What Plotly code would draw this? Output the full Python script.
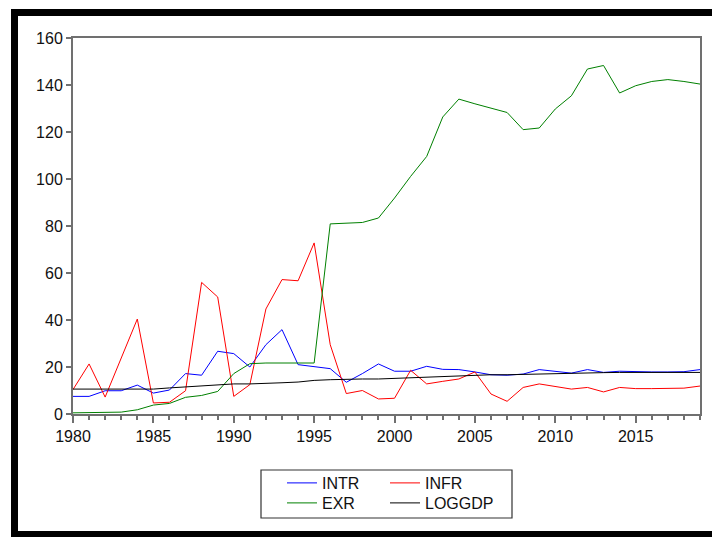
import plotly.graph_objects as go

years = list(range(1980, 2020))

intr = [7.5, 7.5, 9.9, 9.9, 12.3, 8.9, 10.2, 17.2, 16.5, 26.7,
        25.7, 20.0, 29.5, 35.9, 21.0, 20.0, 19.3, 13.5, 17.2, 21.3,
        18.2, 18.2, 20.3, 19.0, 18.9, 17.9, 16.7, 16.5, 17.0, 18.9,
        18.0, 17.4, 18.9, 17.7, 18.2, 17.9, 17.9, 17.9, 18.0, 18.9]

infr = [10.4, 21.3, 7.2, 23.5, 40.4, 4.7, 5.0, 9.9, 56.0, 49.8,
        7.5, 12.5, 44.7, 57.2, 56.7, 72.8, 29.5, 8.7, 10.0, 6.4,
        6.7, 18.6, 12.8, 13.9, 14.9, 17.9, 8.5, 5.4, 11.3, 12.8,
        11.8, 10.6, 11.3, 9.4, 11.3, 10.8, 10.8, 10.8, 11.0, 11.9]

exr = [0.5, 0.6, 0.7, 0.8, 1.8, 3.8, 4.5, 7.1, 7.9, 9.6,
       17.2, 21.4, 21.7, 21.7, 21.7, 21.7, 80.9, 81.3, 81.5, 83.4,
       91.9, 101.1, 109.6, 126.4, 134.0, 132.0, 130.2, 128.3, 121.0, 121.7,
       129.8, 135.4, 146.8, 148.3, 136.6, 139.7, 141.5, 142.3, 141.5, 140.4]

loggdp = [10.6, 10.6, 10.6, 10.6, 10.6, 10.6, 11.1, 11.5, 11.8, 12.2,
          12.8, 12.8, 13.2, 13.3, 13.6, 14.3, 14.6, 14.9, 14.9, 14.9,
          15.2, 15.5, 15.7, 16.0, 16.3, 16.6, 16.7, 16.7, 16.9, 17.0,
          17.2, 17.3, 17.4, 17.6, 17.7, 17.7, 17.7, 17.7, 17.7, 17.7]

x_ticks = [1980, 1985, 1990, 1995, 2000, 2005, 2010, 2015]
y_ticks = [0, 20, 40, 60, 80, 100, 120, 140, 160]

fig = go.Figure()
fig.add_trace(go.Scatter(x=years, y=intr, mode="lines", name="INTR",
                         line=dict(color="#0000ff", width=1), legend="legend"))
fig.add_trace(go.Scatter(x=years, y=infr, mode="lines", name="INFR",
                         line=dict(color="#ff0000", width=1), legend="legend"))
fig.add_trace(go.Scatter(x=years, y=exr, mode="lines", name="EXR",
                         line=dict(color="#008000", width=1), legend="legend2"))
fig.add_trace(go.Scatter(x=years, y=loggdp, mode="lines", name="LOGGDP",
                         line=dict(color="#000000", width=1), legend="legend3"))

axis_col = "#707070"
font = dict(family="Liberation Sans, Arial, sans-serif", size=16, color="#111111")

leg_common = dict(orientation="h", xanchor="left", yanchor="middle",
                  bgcolor="rgba(0,0,0,0)", borderwidth=0,
                  font=font, itemclick=False, itemdoubleclick=False)

# page offsets (body margin) are 8px; plot area in page coords: x 73..700, y 38..414
col1_x = (282 - 73) / 627
col2_x = (385 - 73) / 627
row1_y = (414 - 483) / 376
row2_y = (414 - 503) / 376

fig.update_layout(
    width=712, height=529,
    margin=dict(l=65, r=20, t=30, b=123),
    paper_bgcolor="white", plot_bgcolor="white",
    font=font,
    showlegend=True,
    legend=dict(x=col1_x, y=row1_y, entrywidth=58, entrywidthmode="pixels", **leg_common),
    legend2=dict(x=col1_x, y=row2_y, **leg_common),
    legend3=dict(x=col2_x, y=row2_y, **leg_common),
    xaxis=dict(range=[1980, 2019], tickvals=x_ticks, ticks="outside", ticklen=7,
               tickwidth=1.5, tickcolor=axis_col, showline=True, linecolor=axis_col,
               linewidth=2, mirror=True, showgrid=False, zeroline=False,
               minor=dict(dtick=1, tick0=1980, ticks="outside", ticklen=4,
                          tickwidth=1.5, tickcolor=axis_col, showgrid=False),
               tickfont=font),
    yaxis=dict(range=[0, 160], tickvals=y_ticks, ticks="outside", ticklen=5,
               tickwidth=1.5, tickcolor=axis_col, showline=True, linecolor=axis_col,
               linewidth=2, mirror=True, showgrid=False, zeroline=False,
               tickfont=font),
    shapes=[
        # legend box
        dict(type="rect", xref="paper", yref="paper",
             x0=(261 - 73) / 627, x1=(512 - 73) / 627,
             y0=(414 - 470) / 376, y1=(414 - 518) / 376,
             line=dict(color="#333333", width=1.2), fillcolor="rgba(0,0,0,0)"),
        # outer black frame
        dict(type="rect", xref="paper", yref="paper",
             x0=(14.5 - 73) / 627, x1=(740 - 73) / 627,
             y0=(414 - 12.5) / 376, y1=(414 - 534.5) / 376,
             line=dict(color="#000000", width=7), fillcolor="rgba(0,0,0,0)"),
    ],
)

fig.write_html("out.html")
